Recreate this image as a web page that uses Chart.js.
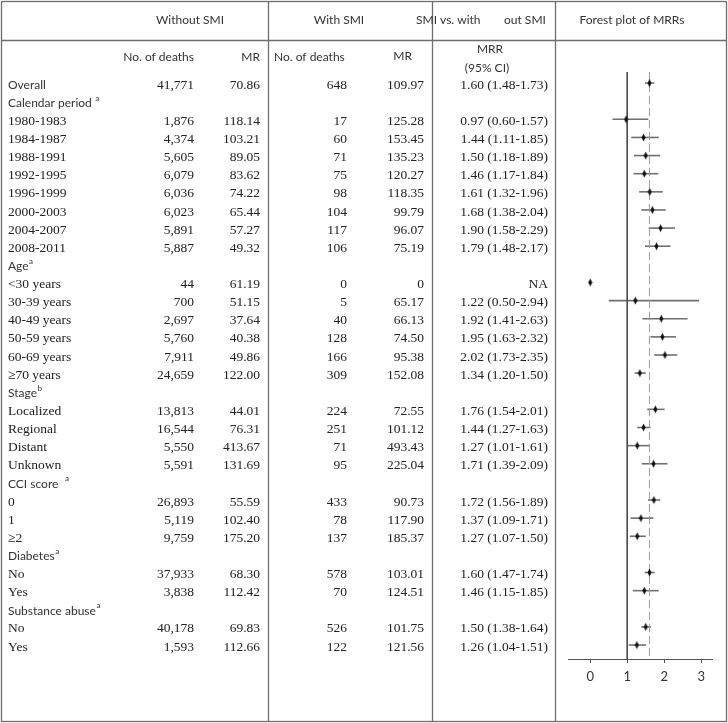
<!DOCTYPE html>
<html>
<head>
<meta charset="utf-8">
<script src="https://cdn.jsdelivr.net/npm/chart.js@4.4.1/dist/chart.umd.min.js"></script>
<style>
html, body { margin: 0; padding: 0; background: #fff; }
canvas { display: block; }
</style>
</head>
<body>
<canvas id="forest" width="728" height="723"></canvas>
<script>
// ---- table data ----
var rowLabels = ['Overall', 'Calendar period ', '1980-1983', '1984-1987', '1988-1991', '1992-1995',
  '1996-1999', '2000-2003', '2004-2007', '2008-2011', 'Age', '<30 years', '30-39 years',
  '40-49 years', '50-59 years', '60-69 years', '\u226570 years', 'Stage', 'Localized', 'Regional',
  'Distant', 'Unknown', 'CCI score  ', '0', '1', '\u22652', 'Diabetes', 'No', 'Yes',
  'Substance abuse', 'No', 'Yes'];
// superscript note on group heading rows; null = ordinary row
var rowNotes = [null, 'a', null, null, null, null, null, null, null, null, 'a', null, null,
  null, null, null, null, 'b', null, null, null, null, 'a', null, null, null, 'a', null, null,
  'a', null, null];
var deathsWithout = [41771, null, 1876, 4374, 5605, 6079, 6036, 6023, 5891, 5887, null, 44, 700,
  2697, 5760, 7911, 24659, null, 13813, 16544, 5550, 5591, null, 26893, 5119, 9759, null, 37933, 3838,
  null, 40178, 1593];
var mrWithout = [70.86, null, 118.14, 103.21, 89.05, 83.62, 74.22, 65.44, 57.27, 49.32, null, 61.19, 51.15,
  37.64, 40.38, 49.86, 122.00, null, 44.01, 76.31, 413.67, 131.69, null, 55.59, 102.40, 175.20, null, 68.30, 112.42,
  null, 69.83, 112.66];
var deathsWith = [648, null, 17, 60, 71, 75, 98, 104, 117, 106, null, 0, 5,
  40, 128, 166, 309, null, 224, 251, 71, 95, null, 433, 78, 137, null, 578, 70,
  null, 526, 122];
var mrWith = [109.97, null, 125.28, 153.45, 135.23, 120.27, 118.35, 99.79, 96.07, 75.19, null, 0, 65.17,
  66.13, 74.50, 95.38, 152.08, null, 72.55, 101.12, 493.43, 225.04, null, 90.73, 117.90, 185.37, null, 103.01, 124.51,
  null, 101.75, 121.56];
var mrr = [1.60, null, 0.97, 1.44, 1.50, 1.46, 1.61, 1.68, 1.90, 1.79, null, 'NA', 1.22,
  1.92, 1.95, 2.02, 1.34, null, 1.76, 1.44, 1.27, 1.71, null, 1.72, 1.37, 1.27, null, 1.60, 1.46,
  null, 1.50, 1.26];
var ciLow = [1.48, null, 0.60, 1.11, 1.18, 1.17, 1.32, 1.38, 1.58, 1.48, null, null, 0.50,
  1.41, 1.63, 1.73, 1.20, null, 1.54, 1.27, 1.01, 1.39, null, 1.56, 1.09, 1.07, null, 1.47, 1.15,
  null, 1.38, 1.04];
var ciHigh = [1.73, null, 1.57, 1.85, 1.89, 1.84, 1.96, 2.04, 2.29, 2.17, null, null, 2.94,
  2.63, 2.32, 2.35, 1.50, null, 2.01, 1.63, 1.61, 2.09, null, 1.89, 1.71, 1.50, null, 1.74, 1.85,
  null, 1.64, 1.51];
var naPlotValue = 0;          // the NA row is drawn at 0 in the figure
var nullLine = 1;             // solid reference line
var overallLine = 1.60;       // dashed line at the overall MRR
var xTicks = [0, 1, 2, 3];

var SANS = 'Lato, "Noto Sans", sans-serif';
var SERIF = '"Liberation Serif", "Times New Roman", serif';

function fmtInt(v) { return v.toLocaleString('en-US'); }
function fmtRate(v) { return v === 0 ? '0' : v.toFixed(2); }

// forest points built from the arrays
var points = [];
for (var i = 0; i < rowLabels.length; i++) {
  if (mrr[i] === null) continue;
  points.push({ x: mrr[i] === 'NA' ? naPlotValue : mrr[i], y: i });
}
var lastRow = rowLabels.length - 1;
var yMin = -0.61, yMax = lastRow + 0.77;

// small vertical diamond marker
var marker = document.createElement('canvas');
marker.width = 5; marker.height = 9;
(function () {
  var m = marker.getContext('2d');
  m.fillStyle = '#111';
  m.beginPath();
  m.moveTo(2.5, 0.5); m.lineTo(4.5, 4.5); m.lineTo(2.5, 8.5); m.lineTo(0.5, 4.5);
  m.closePath(); m.fill();
})();

var errorBars = {
  id: 'errorBars',
  beforeDatasetsDraw: function (chart) {
    var ctx = chart.ctx, xs = chart.scales.x, ys = chart.scales.y;
    ctx.save();
    ctx.strokeStyle = '#707070';
    ctx.lineWidth = 1.6;
    for (var i = 0; i < rowLabels.length; i++) {
      if (ciLow[i] === null) continue;
      var py = ys.getPixelForValue(i);
      ctx.beginPath();
      ctx.moveTo(xs.getPixelForValue(ciLow[i]), py);
      ctx.lineTo(xs.getPixelForValue(ciHigh[i]), py);
      ctx.stroke();
    }
    ctx.restore();
  }
};

function txt(ctx, s, x, y, font, align, color) {
  ctx.font = font;
  ctx.textAlign = align;
  ctx.fillStyle = color || '#222';
  ctx.fillText(s, x, y);
}

var tableText = {
  id: 'tableText',
  beforeDraw: function (chart) {
    var ctx = chart.ctx;
    ctx.save();
    ctx.fillStyle = '#fff';
    ctx.fillRect(0, 0, chart.width, chart.height);
    ctx.restore();
  },
  afterDraw: function (chart) {
    var ctx = chart.ctx, ys = chart.scales.y;
    ctx.save();
    // grid of the table
    ctx.strokeStyle = '#6e6e6e';
    ctx.lineWidth = 1.3;
    ctx.strokeRect(1.5, 1.5, 725, 720);
    ctx.beginPath();
    ctx.moveTo(1, 40.5); ctx.lineTo(727, 40.5);
    [268.5, 432.5, 555.5].forEach(function (x) { ctx.moveTo(x, 1); ctx.lineTo(x, 722); });
    ctx.stroke();

    ctx.textBaseline = 'middle';
    var hs = '12px ' + SANS;
    txt(ctx, 'Without SMI', 190, 20, hs, 'center', '#333');
    txt(ctx, 'With SMI', 339, 20, hs, 'center', '#333');
    txt(ctx, 'SMI vs. with', 416, 20, hs, 'left', '#333');
    txt(ctx, 'out SMI', 504, 20, hs, 'left', '#333');
    txt(ctx, 'Forest plot of MRRs', 632, 20, hs, 'center', '#333');
    txt(ctx, 'No. of deaths', 194, 57, hs, 'right', '#333');
    txt(ctx, 'MR', 260, 57, hs, 'right', '#333');
    txt(ctx, 'No. of deaths', 274, 57, hs, 'left', '#333');
    txt(ctx, 'MR', 412, 56, hs, 'right', '#333');
    txt(ctx, 'MRR', 490, 49, hs, 'center', '#333');
    txt(ctx, '(95% CI)', 487, 68, hs, 'center', '#333');

    var ss = '13.5px ' + SERIF;
    for (var i = 0; i < rowLabels.length; i++) {
      var py = ys.getPixelForValue(i) + 2;
      if (i === 0 || rowNotes[i] !== null) {
        txt(ctx, rowLabels[i], 8, py, hs, 'left', '#333');
        if (rowNotes[i]) {
          ctx.font = hs;
          var w = ctx.measureText(rowLabels[i]).width;
          txt(ctx, rowNotes[i], 8 + w + 0.5, py - 5, '8px ' + SANS, 'left', '#333');
        }
      } else {
        txt(ctx, rowLabels[i], 8, py, ss, 'left');
      }
      if (deathsWithout[i] === null) continue;
      txt(ctx, fmtInt(deathsWithout[i]), 194, py, ss, 'right');
      txt(ctx, fmtRate(mrWithout[i]), 260, py, ss, 'right');
      txt(ctx, fmtInt(deathsWith[i]), 347, py, ss, 'right');
      txt(ctx, fmtRate(mrWith[i]), 424, py, ss, 'right');
      var m = mrr[i] === 'NA' ? 'NA' :
        mrr[i].toFixed(2) + ' (' + ciLow[i].toFixed(2) + '-' + ciHigh[i].toFixed(2) + ')';
      txt(ctx, m, 548, py, ss, 'right');
    }
    ctx.restore();
  }
};

new Chart(document.getElementById('forest'), {
  type: 'scatter',
  data: {
    datasets: [{
      label: 'MRR',
      data: points,
      pointStyle: marker,
      pointRadius: 4,
      order: 0
    }, {
      label: 'null',
      data: [{ x: nullLine, y: yMin }, { x: nullLine, y: yMax }],
      showLine: true,
      borderColor: '#4a4a4a',
      borderWidth: 1,
      pointRadius: 0,
      order: 2
    }, {
      label: 'overall',
      data: [{ x: overallLine, y: yMin }, { x: overallLine, y: yMax }],
      showLine: true,
      borderColor: '#9a9a9a',
      borderWidth: 1,
      borderDash: [8, 4],
      pointRadius: 0,
      order: 1
    }]
  },
  options: {
    responsive: false,
    animation: false,
    devicePixelRatio: 1,
    layout: { padding: { left: 568, right: 16, top: 72, bottom: 34 } },
    plugins: { legend: { display: false }, tooltip: { enabled: false } },
    scales: {
      x: {
        type: 'linear',
        min: -0.6,
        max: 3.29,
        afterBuildTicks: function (scale) {
          scale.ticks = xTicks.map(function (v) { return { value: v }; });
        },
        afterFit: function (scale) { scale.height = 30; },
        grid: { drawOnChartArea: false, drawTicks: true, tickLength: 4, color: '#555' },
        border: { display: true, color: '#555', width: 1 },
        ticks: { color: '#333', padding: 6, font: { family: SANS, size: 13 } }
      },
      y: {
        type: 'linear',
        display: false,
        reverse: true,
        min: yMin,
        max: yMax
      }
    }
  },
  plugins: [tableText, errorBars]
});
</script>
</body>
</html>
